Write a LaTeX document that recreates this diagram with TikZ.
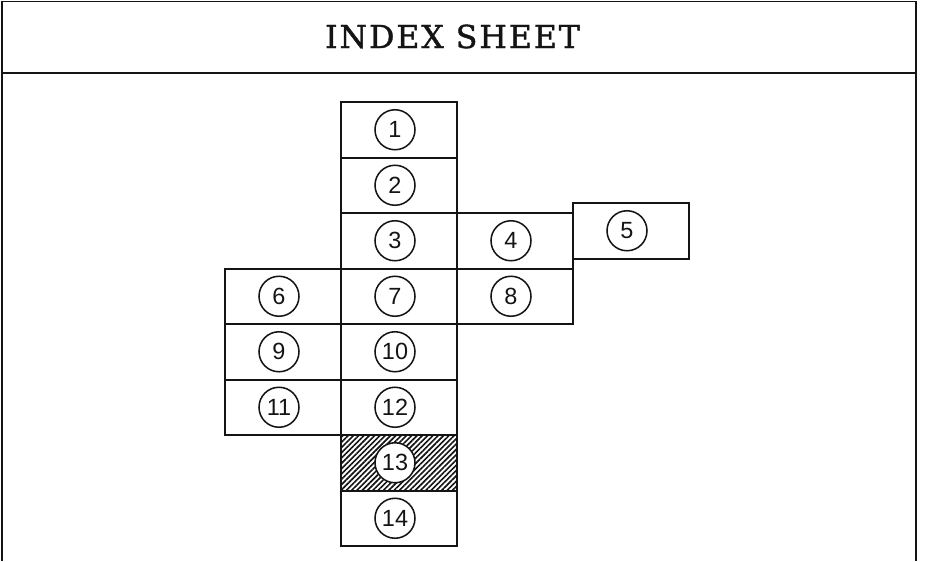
\documentclass[tikz,border=0pt]{standalone}
\usepackage{fontspec}
\newfontfamily\digitfont{Liberation Sans}
\newfontfamily\headfont[FakeBold=1.2, LetterSpace=6]{DejaVu Serif}
\usetikzlibrary{positioning, calc, patterns.meta}
\definecolor{isInk}{HTML}{141414}
\tikzset{
  sheet/.style={
    draw=isInk, line width=1.7pt, inner sep=0pt, outer sep=0pt,
    minimum width=34.8mm, minimum height=16.65mm
  },
  hatched/.style={sheet,
    pattern={Lines[angle=45, distance=3.2pt, line width=1.4pt]}, pattern color=isInk},
  num/.style={
    circle, draw=isInk, line width=1.3pt, fill=white, inner sep=0pt,
    minimum size=12mm, text=isInk, xshift=-1.2mm,
    font=\digitfont\fontsize{20pt}{20pt}\selectfont
  },
  sheetframe/.style={draw=isInk, line width=1.7pt},
  headline/.style={font=\headfont\fontsize{27pt}{30pt}\selectfont, text=isInk, inner sep=0pt},
}
\begin{document}
\begin{tikzpicture}[x=0.3mm, y=-0.3mm]
  \useasboundingbox (0,0) rectangle (928,561);
  % sheet frame, open at the bottom
  \draw[sheetframe] (2,561) -- (2,1.5) -- (916,1.5) -- (916,561);
  \draw[sheetframe] (2,72.5) -- (916,72.5);
  \node[headline] (head) at (452.5,36.5) {INDEX SHEET};
  % centre column
  \node[sheet, anchor=north] (s1) at (399,102) {};
  \node[sheet, below=0pt of s1] (s2) {};
  \node[sheet, below=0pt of s2] (s3) {};
  \node[sheet, below=0pt of s3] (s7) {};
  \node[sheet, below=0pt of s7] (s10) {};
  \node[sheet, below=0pt of s10] (s12) {};
  \node[hatched, below=0pt of s12] (s13) {};
  \node[sheet, below=0pt of s13] (s14) {};
  % side sheets
  \node[sheet, right=0pt of s3] (s4) {};
  \node[sheet, right=0pt of s7] (s8) {};
  \node[sheet, anchor=south west] (s5) at ($(s4.south east)+(0,-10)$) {};
  \node[sheet, left=0pt of s7] (s6) {};
  \node[sheet, left=0pt of s10] (s9) {};
  \node[sheet, left=0pt of s12] (s11) {};
  % sheet numbers
  \foreach \n in {1,...,14}
    \node[num] (c\n) at (s\n) {\n};
\end{tikzpicture}
\end{document}
